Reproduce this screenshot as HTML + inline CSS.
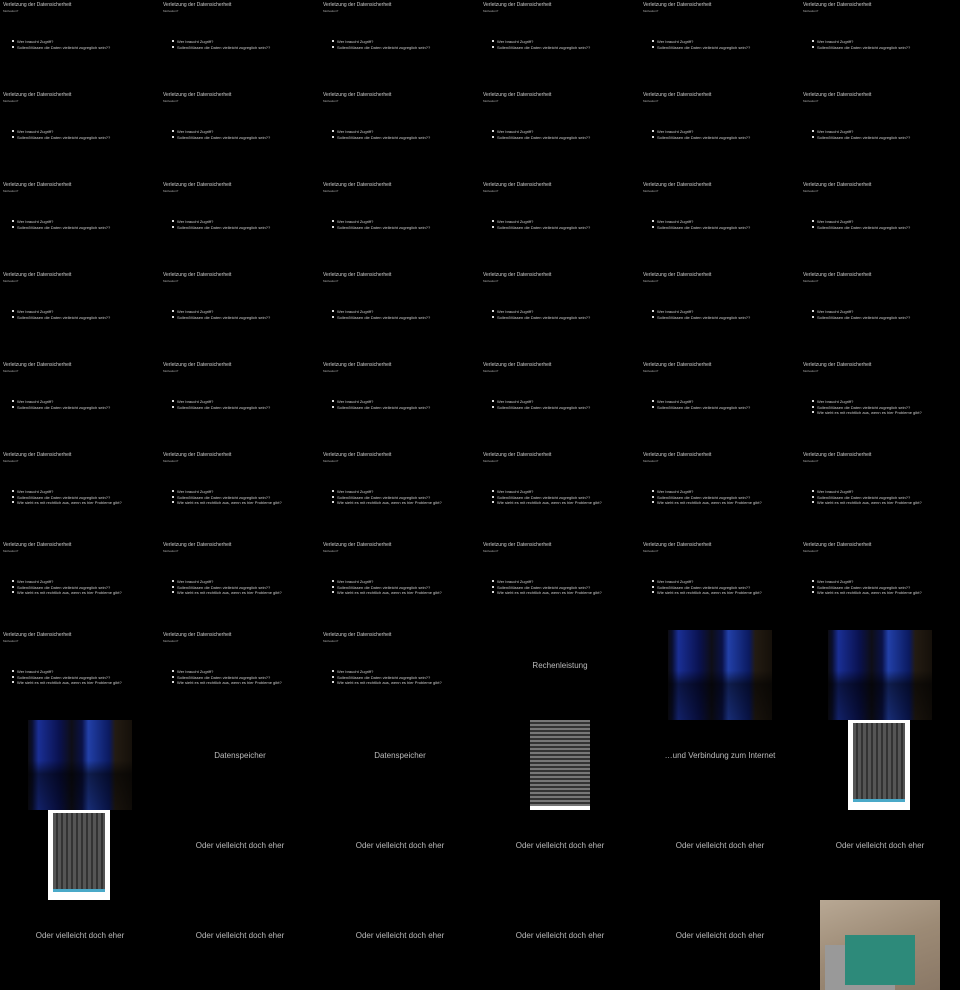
<!DOCTYPE html>
<html><head><meta charset="utf-8">
<style>
body{margin:0;background:#000;width:960px;height:990px;overflow:hidden;font-family:"Liberation Sans",sans-serif;}
#grid{position:relative;width:960px;height:990px;}
.cell{position:absolute;width:160px;height:90px;background:#000;overflow:hidden;}
.t{position:absolute;left:3px;top:2px;font-size:5px;color:#ccc;white-space:nowrap;}
.s{position:absolute;left:3px;top:9px;font-size:3px;color:#aaa;white-space:nowrap;}
.b{position:absolute;left:17px;font-size:4px;color:#ccc;white-space:nowrap;}
.b::before{content:"";position:absolute;left:-5px;top:1px;width:2px;height:2px;background:#ddd;}
.c{position:absolute;left:0;width:160px;top:31px;text-align:center;font-size:8px;color:#bbb;white-space:nowrap;}
.img{position:absolute;top:0;height:90px;}
.rack{left:28px;width:104px;background:
linear-gradient(180deg,rgba(0,0,0,0) 0%,rgba(0,0,0,0) 45%,rgba(0,0,0,0.55) 60%,rgba(0,0,0,0.3) 100%),
linear-gradient(90deg,#0c0c10 0%,#0a0f30 4%,#1a2f95 10%,#0a1250 30%,#0e0e16 42%,#0a1248 52%,#2240a8 58%,#0b1a60 78%,#231b12 84%,#15100a 100%);}
.stor{left:50px;width:60px;background:repeating-linear-gradient(180deg,#777 0 2px,#333 2px 4px);border-bottom:4px solid #fff;box-sizing:border-box;}
.sw{left:48px;width:62px;background:#fff;}
.sw::after{content:"";position:absolute;left:5px;top:3px;right:5px;bottom:8px;background:repeating-linear-gradient(90deg,#555 0 3px,#333 3px 5px);border-bottom:3px solid #4aa9c8;}
.pi{left:20px;width:120px;background:linear-gradient(160deg,#b8a894 0%,#9c8a75 50%,#8a7866 100%);}
.pi::after{content:"";position:absolute;left:25px;top:35px;width:70px;height:50px;background:#2d8a7a;box-shadow:-20px 10px 0 #999;}
</style></head>
<body>
<div id="grid"></div>
<script>
const title="Verletzung der Datensicherheit";
const sub="Motivation?";
const bullets=["Wer braucht Zugriff?","Sollen/Müssen die Daten vielleicht zugreglich sein??","Wie sieht es mit rechtlich aus, wenn es hier Probleme gibt?"];
const slides=[];
for(let i=0;i<29;i++)slides.push(2);
for(let i=0;i<16;i++)slides.push(3);
slides.push("Rechenleistung",{k:"rack"},{k:"rack"},
{k:"rack"},"Datenspeicher","Datenspeicher",{k:"stor"},"…und Verbindung zum Internet",{k:"sw"},
{k:"sw"},"Oder vielleicht doch eher","Oder vielleicht doch eher","Oder vielleicht doch eher","Oder vielleicht doch eher","Oder vielleicht doch eher",
"Oder vielleicht doch eher","Oder vielleicht doch eher","Oder vielleicht doch eher","Oder vielleicht doch eher","Oder vielleicht doch eher",{k:"pi"});
const g=document.getElementById('grid');
slides.forEach((s,i)=>{
  const d=document.createElement('div');
  d.className='cell';
  
  
  d.style.left=(i%6)*160+'px';d.style.top=Math.floor(i/6)*90+'px';
  if(typeof s==='number'){
    let h='<div class="t">'+title+'</div><div class="s">'+sub+'</div>';
    for(let j=0;j<s;j++)h+='<div class="b" style="top:'+(39+j*5.5)+'px">'+bullets[j]+'</div>';
    d.innerHTML=h;
  }else if(typeof s==='string'){
    d.innerHTML='<div class="c">'+s+'</div>';
  }else{
    d.innerHTML='<div class="img '+s.k+'"></div>';
  }
  g.appendChild(d);
});
</script>
</body></html>
